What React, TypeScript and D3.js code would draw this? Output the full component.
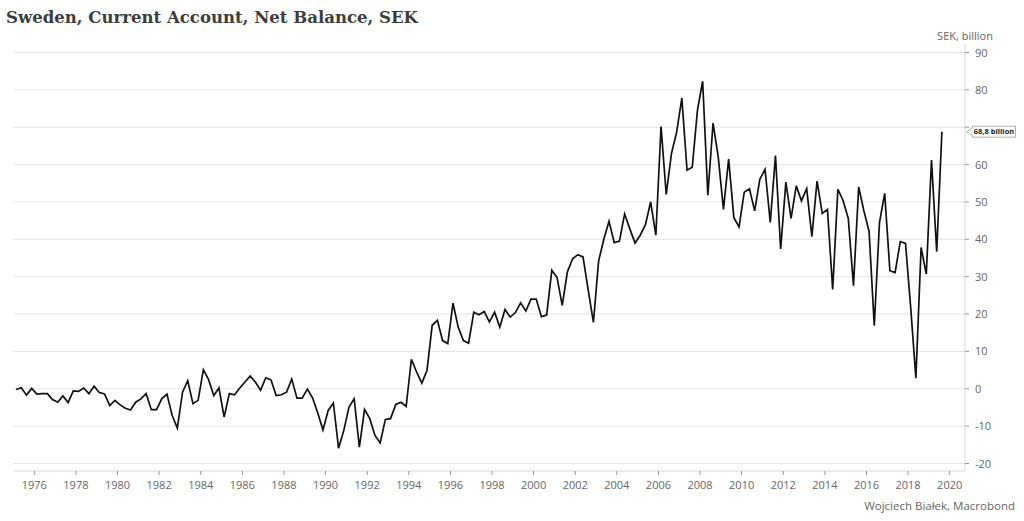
import React from "react";
import * as d3 from "d3";

const startYear = 1975;
const values: number[] = [
  // 1975
  -0.2, 0.3, -1.7, 0.1,
  // 1976
  -1.4, -1.3, -1.3, -2.9,
  // 1977
  -3.6, -1.9, -3.7, -0.6,
  // 1978
  -0.7, 0.2, -1.3, 0.7,
  // 1979
  -1.0, -1.4, -4.5, -3.1,
  // 1980
  -4.3, -5.2, -5.7, -3.6,
  // 1981
  -2.7, -1.3, -5.6, -5.6,
  // 1982
  -2.7, -1.4, -7.1, -10.5,
  // 1983
  -0.9, 2.2, -4.0, -3.1,
  // 1984
  5.1, 2.5, -1.8, 0.2,
  // 1985
  -7.6, -1.3, -1.6, 0.2,
  // 1986
  1.8, 3.4, 1.8, -0.4,
  // 1987
  2.9, 2.4, -1.8, -1.6,
  // 1988
  -0.9, 2.6, -2.5, -2.5,
  // 1989
  -0.1, -2.4, -6.5, -11.0,
  // 1990
  -5.8, -3.8, -15.9, -11.2,
  // 1991
  -4.9, -2.7, -15.6, -5.5,
  // 1992
  -8.0, -12.5, -14.5, -8.2,
  // 1993
  -8.0, -4.2, -3.6, -4.7,
  // 1994
  7.9, 4.5, 1.5, 4.9,
  // 1995
  17.0, 18.3, 12.9, 12.1,
  // 1996
  22.9, 16.5, 12.9, 12.2,
  // 1997
  20.5, 19.8, 20.7, 17.9,
  // 1998
  20.5, 16.5, 21.2, 19.2,
  // 1999
  20.4, 23.0, 20.8, 24.0,
  // 2000
  24.0, 19.3, 19.7, 31.7,
  // 2001
  29.8, 22.3, 31.3, 34.8,
  // 2002
  35.9, 35.3, 26.4, 17.8,
  // 2003
  34.2, 40.0, 44.8, 39.1,
  // 2004
  39.5, 46.8, 42.8, 39.0,
  // 2005
  41.1, 43.9, 50.0, 41.1,
  // 2006
  70.2, 52.0, 62.9, 68.7,
  // 2007
  77.8, 58.5, 59.3, 74.5,
  // 2008
  82.3, 51.8, 71.1, 62.0,
  // 2009
  48.0, 61.5, 45.8, 43.3,
  // 2010
  52.6, 53.5, 47.6, 56.1,
  // 2011
  58.7, 44.5, 62.4, 37.4,
  // 2012
  55.3, 45.6, 54.3, 50.3,
  // 2013
  53.6, 40.7, 55.6, 46.9,
  // 2014
  48.0, 26.6, 53.4, 50.4,
  // 2015
  45.6, 27.6, 54.0, 47.6,
  // 2016
  42.1, 16.9, 44.5, 52.3,
  // 2017
  31.6, 31.1, 39.4, 38.9,
  // 2018
  21.8, 2.8, 37.8, 30.7,
  // 2019
  61.2, 36.7, 68.8,
];

const yTicks = [-20, -10, 0, 10, 20, 30, 40, 50, 60, 70, 80, 90];
const xTicks = d3.range(1976, 2021, 2);
const title = "Sweden, Current Account, Net Balance, SEK";
const unitLabel = "SEK, billion";
const source = "Wojciech Białek, Macrobond";
const lastLabel = "68,8 billion";

export default function App() {
  const W = 1024;
  const H = 521;
  const plotLeft = 13;
  const plotRight = 965;
  const axisY = 471;

  const x = d3.scaleLinear().domain([1976, 2020]).range([34.3, 949.7]);
  const y = d3.scaleLinear().domain([-20, 90]).range([463.5, 52.5]);

  const pts = values.map((v, i) => ({ t: startYear + (i * 3 + 1.5) / 12, v }));
  const line = d3
    .line<{ t: number; v: number }>()
    .x((d) => x(d.t))
    .y((d) => y(d.v));

  const last = pts[pts.length - 1];
  const ly = y(last.v);
  const bx0 = 972.5;
  const bx1 = 1015.5;
  const bh = 11;
  const tip = plotRight + 1.5;
  const boxPath = `M${tip},${ly} L${bx0},${ly - 4} L${bx0},${ly - bh / 2} L${bx1},${ly - bh / 2} L${bx1},${ly + bh / 2} L${bx0},${ly + bh / 2} L${bx0},${ly + 4} Z`;

  const font = "'Open Sans', 'Noto Sans', sans-serif";

  return (
    <svg
      width={W}
      height={H}
      style={{ position: "absolute", left: 0, top: 0, background: "#fff" }}
    >
      <rect x={0} y={0} width={W} height={H} fill="#fff" />
      <text
        x={6}
        y={23}
        fontFamily="'DejaVu Serif', serif"
        fontWeight="bold"
        fontSize={17.5}
        fill="#3d3d3d"
        textLength={412}
        lengthAdjust="spacingAndGlyphs"
      >
        {title}
      </text>

      {/* gridlines */}
      {yTicks.map((t) => (
        <line
          key={"g" + t}
          x1={plotLeft}
          x2={plotRight}
          y1={y(t)}
          y2={y(t)}
          stroke="#e4e4e4"
          strokeWidth={1}
        />
      ))}

      {/* axes */}
      <line x1={plotRight} x2={plotRight} y1={44} y2={axisY} stroke="#d6d6d6" strokeWidth={1} />
      <line x1={plotLeft} x2={plotRight} y1={axisY} y2={axisY} stroke="#d6d6d6" strokeWidth={1} />

      {yTicks.map((t) => (
        <g key={"yt" + t}>
          <line x1={plotRight} x2={plotRight + 4} y1={y(t)} y2={y(t)} stroke="#999" />
          {Math.abs(y(t) - ly) > 9 && (
            <text
              x={975}
              y={y(t) + 4}
              fontFamily={font}
              fontSize={11}
              fill="#666"
            >
              {t}
            </text>
          )}
        </g>
      ))}

      {xTicks.map((t) => (
        <g key={"xt" + t}>
          <line x1={x(t)} x2={x(t)} y1={axisY} y2={axisY + 4} stroke="#999" />
          <text
            x={x(t)}
            y={489}
            textAnchor="middle"
            fontFamily={font}
            fontSize={11}
            fill="#666"
          >
            {t}
          </text>
        </g>
      ))}

      <text x={965} y={39.5} textAnchor="middle" fontFamily={font} fontSize={11} fill="#666">
        {unitLabel}
      </text>

      <path d={line(pts) || ""} fill="none" stroke="#111" strokeWidth={1.7} strokeLinejoin="miter" />

      <path d={boxPath} fill="#fff" stroke="#999" strokeWidth={0.8} />
      <text
        x={(bx0 + bx1) / 2}
        y={ly + 2.7}
        textAnchor="middle"
        fontFamily={font}
        fontSize={7.5}
        fontWeight="bold"
        fill="#222"
      >
        {lastLabel}
      </text>

      <text x={1015} y={510} textAnchor="end" fontFamily={font} fontSize={11.5} fill="#666">
        {source}
      </text>
    </svg>
  );
}
